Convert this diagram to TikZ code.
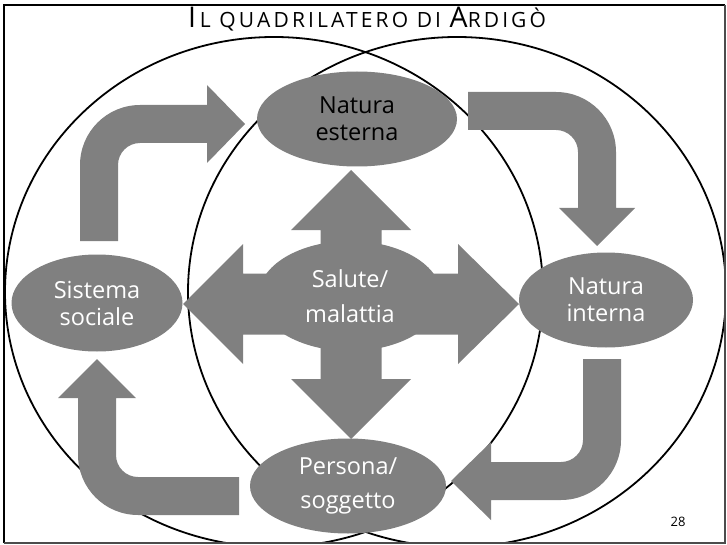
\documentclass[tikz,border=0pt]{standalone}
\usepackage{fontspec}
\setmainfont{Open Sans}
\newfontfamily\titlefont{Open Sans}[LetterSpace=15]
\usetikzlibrary{shapes.geometric}
\definecolor{boxgray}{RGB}{128,128,128}
\def\ll{1pt}

\begin{document}
\begin{tikzpicture}[x=\ll, y=-\ll,
  term/.style={ellipse, fill=boxgray, text=white, inner sep=0pt, align=center,
    font=\fontsize{23.5}{27}\selectfont},
  fat arrow/.style={fill=boxgray}]
\useasboundingbox (0,0) rectangle (727,545);
% rings
\begin{scope}
\clip (4,5) rectangle (725,543);
\draw[line width=1.8] (274,292) ellipse [x radius=269, y radius=255];
\draw[line width=1.8] (457,292) ellipse [x radius=269, y radius=255];
\end{scope}
% frame
\draw[line width=2.6] (4,543) -- (4,5) -- (725,5);
\draw[line width=1.4, black!70] (725,5) -- (725,543) -- (4,543);
% title
\node[anchor=base, inner sep=0pt, font=\titlefont] (title) at (367,28) {{\fontsize{28.5}{28}\selectfont I\kern4pt}{\fontsize{21}{21}\selectfont L QUADRI\kern3pt LATERO DI }{\fontsize{28.5}{28}\selectfont A}{\fontsize{21}{21}\selectfont RDI\kern3pt GÒ}};
% four-way arrow
\fill[fat arrow] (351,170) -- (411,230) -- (381.5,230) -- (381.5,273.5) -- (458,273.5)
  -- (458,244) -- (519,304) -- (458,364) -- (458,334.5) -- (381.5,334.5) -- (381.5,379)
  -- (411,379) -- (351,439) -- (291,379) -- (320.5,379) -- (320.5,334.5) -- (243,334.5)
  -- (243,364) -- (183,304) -- (243,244) -- (243,273.5) -- (320.5,273.5) -- (320.5,230)
  -- (291,230) -- cycle;
% bent arrows
\fill[fat arrow] (80,241) -- (80,165) arc[start angle=180, end angle=270, radius=60]
  -- (207,105) -- (207,85) -- (245,124) -- (207,163) -- (207,143) -- (140,143)
  arc[start angle=270, end angle=180, radius=22] -- (118,241) -- cycle;
\fill[fat arrow] (468,92) -- (556,92) arc[start angle=270, end angle=360, radius=60]
  -- (616,208) -- (635,208) -- (597,246) -- (559,208) -- (578,208) -- (578,152)
  arc[start angle=0, end angle=-90, radius=22] -- (468,130) -- cycle;
\fill[fat arrow] (583,359) -- (621,359) -- (621,440) arc[start angle=0, end angle=90, radius=60]
  -- (491,500) -- (491,520) -- (451,481) -- (491,442) -- (491,462) -- (561,462)
  arc[start angle=90, end angle=0, radius=22] -- cycle;
\fill[fat arrow] (239,515) -- (138,515) arc[start angle=90, end angle=180, radius=60]
  -- (78,398) -- (58,398) -- (97,359) -- (136,398) -- (116,398) -- (116,455)
  arc[start angle=180, end angle=90, radius=22] -- (239,477) -- cycle;
% terms
\node[term, minimum width=200pt, minimum height=95pt, text=black] (esterna) at (357,119) {Natura\\esterna};
\node[term, minimum width=171pt, minimum height=97pt] (sociale) at (97,303) {Sistema\\sociale};
\node[term, minimum width=174pt, minimum height=95pt] (interna) at (606,300) {Natura\\interna};
\node[term, minimum width=196pt, minimum height=95pt, font=\fontsize{23.5}{34}\selectfont] (persona) at (348,486) {Persona/\\soggetto};
\node[term, minimum width=183pt, minimum height=110pt, font=\fontsize{23.5}{35}\selectfont] (salute) at (350,296) {Salute/\\malattia};
\node (page) at (678,522) {\fontsize{13}{13}\selectfont 28};
\end{tikzpicture}
\end{document}
